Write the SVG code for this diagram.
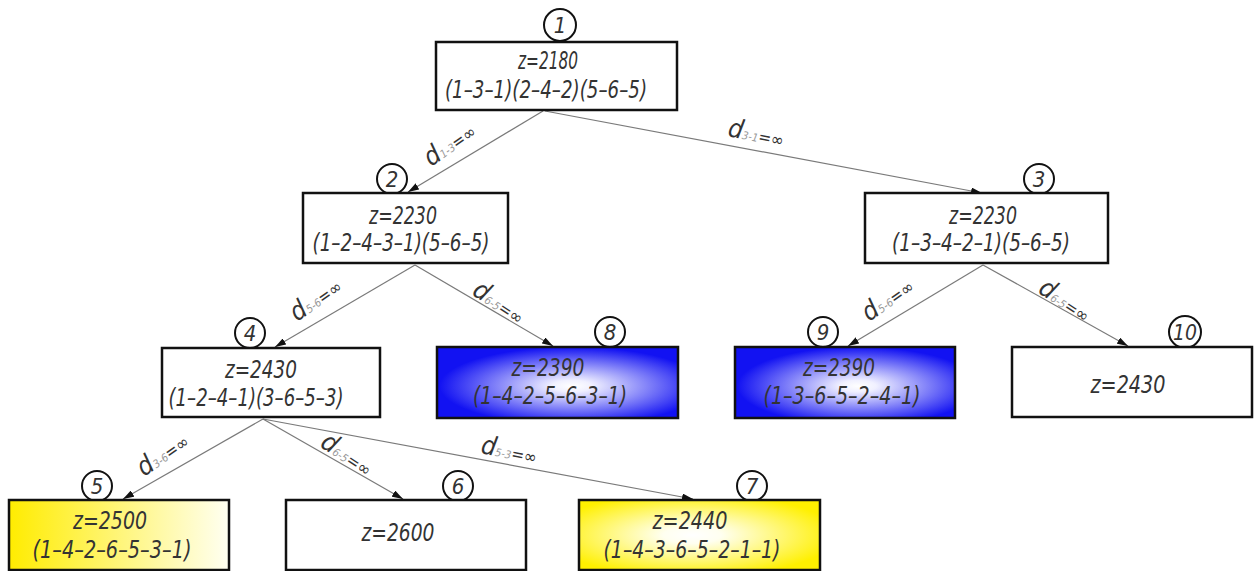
<svg xmlns="http://www.w3.org/2000/svg" width="1257" height="571" viewBox="0 0 1257 571">
<style>
.box{stroke:#111;stroke-width:2.5}
.wh{fill:#fff}
.num{fill:#fff;stroke:#111;stroke-width:2}
.t{font-family:"DejaVu Sans Condensed","DejaVu Sans",sans-serif;font-style:italic;font-size:24px;fill:#333;text-anchor:middle}
.n{font-family:"DejaVu Sans Condensed","DejaVu Sans",sans-serif;font-style:italic;font-size:22px;fill:#333;text-anchor:middle}
.e{fill:none;stroke:#7a7a7a;stroke-width:1.2}
.lb{font-family:"DejaVu Sans Condensed","DejaVu Sans",sans-serif;font-style:italic;fill:#333}
.d{font-size:26px}
.s{font-size:11px;fill:#999}
.q{font-size:17px}
</style>
<defs>
<marker id="ar" markerUnits="userSpaceOnUse" markerWidth="11" markerHeight="7" refX="11" refY="3.5" orient="auto">
<path d="M0,0 L11,3.5 L0,7 z" fill="#111"/>
</marker>
<radialGradient id="blue" cx="0.56" cy="0.55" r="0.55">
<stop offset="0" stop-color="#ffffff"/>
<stop offset="0.15" stop-color="#f0f0ff"/>
<stop offset="1" stop-color="#1212f2"/>
</radialGradient>
<radialGradient id="yel7" cx="0.47" cy="0.5" r="0.6">
<stop offset="0" stop-color="#ffffff"/>
<stop offset="0.2" stop-color="#fffff0"/>
<stop offset="1" stop-color="#fff000"/>
</radialGradient>
<linearGradient id="yel5" x1="0" y1="0" x2="1" y2="0">
<stop offset="0" stop-color="#ffec00"/>
<stop offset="1" stop-color="#fffff2"/>
</linearGradient>
</defs>

<g id="connectors">
<line class="e" x1="543" y1="111" x2="408" y2="192" marker-end="url(#ar)"/>
<line class="e" x1="545" y1="111" x2="982" y2="193" marker-end="url(#ar)"/>
<line class="e" x1="415" y1="265" x2="275" y2="347" marker-end="url(#ar)"/>
<line class="e" x1="415" y1="265" x2="553" y2="346" marker-end="url(#ar)"/>
<line class="e" x1="983" y1="265" x2="848" y2="346" marker-end="url(#ar)"/>
<line class="e" x1="983" y1="265" x2="1128" y2="346" marker-end="url(#ar)"/>
<line class="e" x1="263" y1="419" x2="123" y2="499" marker-end="url(#ar)"/>
<line class="e" x1="263" y1="419" x2="403" y2="499" marker-end="url(#ar)"/>
<line class="e" x1="263" y1="419" x2="693" y2="499" marker-end="url(#ar)"/>
<text class="lb" transform="translate(431,167) rotate(-35)"><tspan class="d">d</tspan><tspan class="s">1-3</tspan><tspan class="q">=∞</tspan></text>
<text class="lb" transform="translate(727,136) rotate(11)"><tspan class="d">d</tspan><tspan class="s">3-1</tspan><tspan class="q">=∞</tspan></text>
<text class="lb" transform="translate(297,322) rotate(-35)"><tspan class="d">d</tspan><tspan class="s">5-6</tspan><tspan class="q">=∞</tspan></text>
<text class="lb" transform="translate(471,294) rotate(33)"><tspan class="d">d</tspan><tspan class="s">6-5</tspan><tspan class="q">=∞</tspan></text>
<text class="lb" transform="translate(869,322) rotate(-35)"><tspan class="d">d</tspan><tspan class="s">5-6</tspan><tspan class="q">=∞</tspan></text>
<text class="lb" transform="translate(1037,292) rotate(33)"><tspan class="d">d</tspan><tspan class="s">6-5</tspan><tspan class="q">=∞</tspan></text>
<text class="lb" transform="translate(144,477) rotate(-35)"><tspan class="d">d</tspan><tspan class="s">3-6</tspan><tspan class="q">=∞</tspan></text>
<text class="lb" transform="translate(319,446) rotate(33)"><tspan class="d">d</tspan><tspan class="s">6-5</tspan><tspan class="q">=∞</tspan></text>
<text class="lb" transform="translate(480,453) rotate(11)"><tspan class="d">d</tspan><tspan class="s">5-3</tspan><tspan class="q">=∞</tspan></text>
</g>

<g id="node1">
<circle class="num" cx="560" cy="25" r="16"/>
<text class="n" x="560" y="33">1</text>
<rect class="box wh" x="436" y="42" width="241" height="68"/>
<text class="t" x="548" y="69" textLength="60" lengthAdjust="spacingAndGlyphs">z=2180</text>
<text class="t" x="546" y="98" textLength="202" lengthAdjust="spacingAndGlyphs">(1–3–1)(2–4–2)(5–6–5)</text>
</g>

<g id="node2">
<circle class="num" cx="392" cy="179" r="15"/>
<text class="n" x="392" y="187">2</text>
<rect class="box wh" x="303" y="193" width="205" height="70"/>
<text class="t" x="403" y="224" textLength="68" lengthAdjust="spacingAndGlyphs">z=2230</text>
<text class="t" x="401" y="251" textLength="177" lengthAdjust="spacingAndGlyphs">(1–2–4–3–1)(5–6–5)</text>
</g>

<g id="node3">
<circle class="num" cx="1039" cy="179" r="15"/>
<text class="n" x="1039" y="187">3</text>
<rect class="box wh" x="865" y="193" width="243" height="70"/>
<text class="t" x="983" y="224" textLength="68" lengthAdjust="spacingAndGlyphs">z=2230</text>
<text class="t" x="981" y="251" textLength="178" lengthAdjust="spacingAndGlyphs">(1–3–4–2–1)(5–6–5)</text>
</g>

<g id="node4">
<circle class="num" cx="250" cy="333" r="15"/>
<text class="n" x="250" y="341">4</text>
<rect class="box wh" x="162" y="348" width="218" height="69"/>
<text class="t" x="261" y="378" textLength="72" lengthAdjust="spacingAndGlyphs">z=2430</text>
<text class="t" x="256" y="406" textLength="175" lengthAdjust="spacingAndGlyphs">(1–2–4–1)(3–6–5–3)</text>
</g>

<g id="node8">
<circle class="num" cx="610" cy="332" r="15"/>
<text class="n" x="610" y="340">8</text>
<rect class="box" fill="url(#blue)" x="437" y="347" width="241" height="71"/>
<text class="t" x="548" y="376" textLength="73" lengthAdjust="spacingAndGlyphs">z=2390</text>
<text class="t" x="550" y="404" textLength="154" lengthAdjust="spacingAndGlyphs">(1–4–2–5–6–3–1)</text>
</g>

<g id="node9">
<circle class="num" cx="823" cy="332" r="15"/>
<text class="n" x="823" y="340">9</text>
<rect class="box" fill="url(#blue)" x="735" y="347" width="220" height="71"/>
<text class="t" x="839" y="376" textLength="72" lengthAdjust="spacingAndGlyphs">z=2390</text>
<text class="t" x="842" y="404" textLength="157" lengthAdjust="spacingAndGlyphs">(1–3–6–5–2–4–1)</text>
</g>

<g id="node10">
<circle class="num" cx="1185" cy="332" r="16"/>
<text class="n" x="1185" y="340" textLength="24" lengthAdjust="spacingAndGlyphs">10</text>
<rect class="box wh" x="1012" y="347" width="240" height="70"/>
<text class="t" x="1128" y="393" textLength="75" lengthAdjust="spacingAndGlyphs">z=2430</text>
</g>

<g id="node5">
<circle class="num" cx="97" cy="486" r="15"/>
<text class="n" x="97" y="494">5</text>
<rect class="box" fill="url(#yel5)" x="9" y="500" width="220" height="70"/>
<text class="t" x="110" y="529" textLength="74" lengthAdjust="spacingAndGlyphs">z=2500</text>
<text class="t" x="112" y="558" textLength="159" lengthAdjust="spacingAndGlyphs">(1–4–2–6–5–3–1)</text>
</g>

<g id="node6">
<circle class="num" cx="458" cy="486" r="15"/>
<text class="n" x="458" y="494">6</text>
<rect class="box wh" x="286" y="500" width="240" height="70"/>
<text class="t" x="398" y="541" textLength="73" lengthAdjust="spacingAndGlyphs">z=2600</text>
</g>

<g id="node7">
<circle class="num" cx="752" cy="486" r="15"/>
<text class="n" x="752" y="494">7</text>
<rect class="box" fill="url(#yel7)" x="579" y="500" width="241" height="70"/>
<text class="t" x="690" y="529" textLength="75" lengthAdjust="spacingAndGlyphs">z=2440</text>
<text class="t" x="692" y="558" textLength="177" lengthAdjust="spacingAndGlyphs">(1–4–3–6–5–2–1–1)</text>
</g>
</svg>
